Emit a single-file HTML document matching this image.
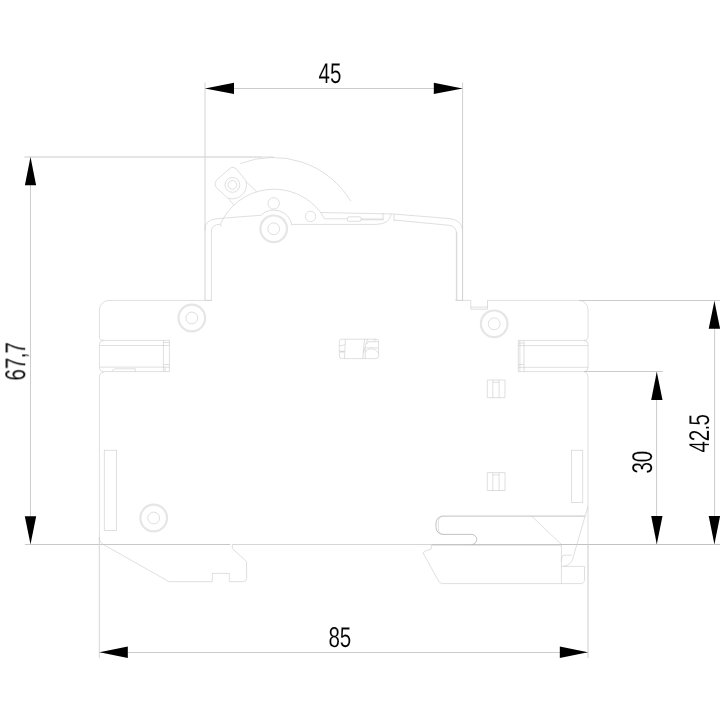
<!DOCTYPE html>
<html>
<head>
<meta charset="utf-8">
<title>Dimension drawing</title>
<style>
html,body{margin:0;padding:0;background:#fff;}
body{width:720px;height:714px;overflow:hidden;}
svg{display:block;}
text{font-family:"Liberation Sans",sans-serif;font-size:28.6px;text-rendering:geometricPrecision;fill:#000;stroke:#fff;stroke-width:0.12;}
.d{stroke:#cccccc;stroke-width:1;fill:none;}
.b{stroke:#cacaca;stroke-width:0.6;fill:none;}
.r{stroke:#e6e6e6;stroke-width:2.2;fill:none;}
.a{fill:#000;stroke:none;}
</style>
</head>
<body>
<svg width="720" height="714" viewBox="0 0 720 714">
<rect width="720" height="714" fill="#fff"/>

<!-- dimension / extension lines -->
<g class="d">
<path d="M205,88.5H462.5"/>
<path d="M205,82.4V300.4" stroke="#d4d4d4"/>
<path d="M462.6,82.4V300.4" stroke="#d0d0d0"/>
<path d="M24.5,157H262"/><path d="M262,157H274" stroke="#dedede"/>
<path d="M30.5,157V544.5"/>
<path d="M25,544.5H230.4" stroke="#c8c8c8"/><path d="M232.4,544.5H431.7" stroke="#d6d6d6"/><path d="M431.7,544.5H720" stroke="#c2c2c2"/><path d="M431.7,545.4H561.4" stroke="#e4e4e4"/>
<path d="M99.3,537V658" stroke="#d6d6d6"/>
<path d="M588,544V658"/>
<path d="M99.4,652.5H588"/>
<path d="M579,300.5H720"/>
<path d="M584,371.5H663"/>
<path d="M656.6,371.5V544.5"/>
<path d="M714.6,300.5V544.5"/>
</g>

<!-- arrows -->
<g class="a">
<path d="M205,88.4L234,82.7V94.1Z"/>
<path d="M462.6,88.4L433.8,82.7V94.1Z"/>
<path d="M30.5,156.9L24.9,185.2H36.1Z"/>
<path d="M30.5,544.3L24.8,516.2H36.2Z"/>
<path d="M99.5,652.2L127.8,646.4V658Z"/>
<path d="M588,652.3L559.8,646.5V658.1Z"/>
<path d="M656.8,371.7L651.2,399.9H662.5Z"/>
<path d="M656.8,544.2L651.2,516H662.5Z"/>
<path d="M714.4,301L708.7,328.7H720.1Z"/>
<path d="M714.4,544.2L708.7,516H720.1Z"/>
</g>

<!-- dimension text -->
<g opacity="0.99">
<text transform="translate(318.6,83.4) scale(0.72,1)">45</text>
<text transform="translate(328.4,647.3) scale(0.72,1)">85</text>
<text transform="translate(25.2,380.6) rotate(-90) scale(0.72,1)">67<tspan dx="-1">,</tspan><tspan dx="-1.2">7</tspan></text>
<text transform="translate(652.2,473.6) rotate(-90) scale(0.72,1)">30</text>
<text transform="translate(709.2,452.6) rotate(-90) scale(0.72,1)">42<tspan dx="-1">.</tspan><tspan dx="-1">5</tspan></text>
</g>

<!-- BODY -->
<g class="b" id="body">
<!-- top-left of housing -->
<path d="M99.4,336.6V310A9.6,9.6 0 0 1 109,300.4H211.7"/>
<path d="M99.4,336.6Q99.4,340.2 103.8,340.4"/>
<!-- left terminal -->
<path d="M169.4,340.4H103.4Q99.4,340.4 99.4,344.4V367.6Q99.4,371.6 103.4,371.6H169.4Z"/>
<path d="M99.4,345.5H169.4M99.4,367.1H169.4M163.4,340.4V371.6M165,367.1V371.6M163.4,342.5H169.4M163.4,364.5H169.4"/>
<path d="M111.5,371.6Q113.5,369 115.8,368.8H135.3V371.6"/>
<!-- left edge lower -->
<path d="M103.8,372.4Q99.4,372.6 99.4,377V539.2Q99.6,542 103,544.3L169.1,581.7H212.3V573.4H229.3V581.7H243.2Q246.6,581.7 246.6,578.3V561.6L232.4,548.6V544.5"/>
<!-- left slot -->
<rect x="104.2" y="450.2" width="12.5" height="80.2"/>
<!-- right top -->
<path d="M455.2,300.4H470.8V309.2H487.5V300.4H579A9.1,9.5 0 0 1 588.1,310V336.6Q588.1,340.2 584,340.4"/>
<path d="M470.8,307.1H487.5"/>
<!-- right terminal -->
<path d="M518.3,340.4H584.1Q588.1,340.4 588.1,344.4V367.6Q588.1,371.6 584.1,371.6H518.3Z"/>
<path d="M518.3,345.6H588.1M518.3,367.3H588.1M524,340.4V371.6M519.9,340.4V371.6M518.3,343H524M518.3,364.5H524"/>
<!-- right edge -->
<path d="M584,371.8Q588,372.2 588,377.3V544.5"/>
<!-- right slot -->
<rect x="571.4" y="450.2" width="11.4" height="52.1"/>
<!-- small boxes -->
<path d="M487.3,380H505V397.7H487.3ZM492.8,380V397.7M499.1,380V397.7M492.8,382.3H499.1"/>
<path d="M487.3,472.6H505V490.5H487.3ZM492.8,472.6V490.5M499.1,472.6V490.5M492.8,474.9H499.1"/>
<!-- window -->
<rect x="339.3" y="339.2" width="39.3" height="19.4" rx="2.6"/>
<path d="M345.4,339.2L344.5,358.6M339.3,345.8Q343,345.6 345.2,344.4M364.5,339.2L362.8,358.6M367.6,339.2Q365.6,344 364.9,348.3L363.1,352.6M365.2,348.6V358.6M365.2,351.8Q368,348.7 371.6,348.6Q376.4,349 378.6,353.1M364.9,348Q372,347.4 378.6,348M368.3,341.7H378.2M368.3,341.7Q367.4,342.6 367,344M373.6,340.6L376,339.4"/>
<path d="M339.3,350.7H344.8V352.5H339.3Z" fill="#d8d8d8" stroke="none"/>
<!-- bottom right clip -->
<path d="M585.2,516.1H443A7,7 0 0 0 436,523V527.4A7,7 0 0 0 443,534.4H471.7A5.05,5.05 0 0 1 471.7,544.5" stroke="#b2b2b2" stroke-width="0.8"/>
<path d="M443.4,516.2A5,5 0 0 0 438.4,521.2V529.2A5,5 0 0 0 443.4,534.2"/>
<path d="M431.7,544.5L431,549.2L424.4,551.4Q422.6,552.2 423.6,554L438.6,581Q440,583.6 442.6,583.6H580.4Q584.5,583.6 584.5,579.8V566.4H561.4"/>
<path d="M561.4,544.5V583.6"/>
<path d="M531.3,515.8L561.4,544.5"/>
<path d="M587.9,506.5L572.8,558.6Q570.8,565.4 563.6,566.2"/>
<path d="M571.8,555.2H563Q561,558 561.4,562"/>

<!-- front nose / bracket -->
<path d="M205,230.5V229Q205.2,220.4 214.6,219.1L223.4,218.1L260.7,215.3"/>
<path d="M211.4,300.4V231Q211.8,224.6 219.8,224.3Q221.4,224.6 221.2,226.6"/>
<path d="M211.7,300.4H205"/>
<!-- arcs (centre 273,248) -->
<path d="M240.3,163.6A90.7,90.7 0 0 1 350.8,201.2"/>
<path d="M220.2,224.6A58.5,58.5 0 0 1 320.6,212.4L324.4,218.8"/>
<!-- lever head -->
<path d="M216.3,180.3L230.3,168.05Q232.8,166.2 235.9,168.5L245.7,180.3A14.1,14.1 0 0 1 227.5,197.9L216,187.3Q213.6,183.8 216.3,180.3Z"/>
<circle cx="232.4" cy="184.9" r="7.4"/>
<circle cx="232.4" cy="184.9" r="4.4"/>
<path d="M246.1,181.7L256.6,191.7M228.6,198.5L233.5,204.9"/>
<!-- small circles -->
<circle cx="273.7" cy="203.4" r="5.7"/>
<circle cx="310.5" cy="216.4" r="5.2"/>
<!-- pivot -->
<circle cx="273.7" cy="228.8" r="5.9"/>
<path d="M260.7,215.5A18.5,18.5 0 0 1 291.9,225.2L293,224.4H376Q389.6,224.2 391.2,214.2"/>
<!-- top of nose to the right -->
<path d="M320.6,212.5L393.3,214L449,218.5Q461.6,219.8 462.5,229.5"/>
<path d="M394.2,220L449,225.3Q456.2,226.2 456.5,233"/><path d="M456.6,232V300.4" stroke="#dcdcdc" stroke-width="1.5"/><path d="M456.5,300.4H462.5"/>
<path d="M324.4,218.8H347.5M361,219H383.1M361,219.8H383.1M383.1,213V220.2M394.1,214V221.3"/>
<rect x="347.4" y="216.8" width="13.7" height="4.5" rx="1.6"/>
</g>
<g class="r">
<circle cx="191.8" cy="318" r="13.3"/>
<circle cx="494.2" cy="323.8" r="13.3"/>
<circle cx="153.7" cy="518" r="13.3"/>
<circle cx="273.7" cy="228.8" r="13.3"/>
</g>
<g class="b">
<circle cx="191.8" cy="318" r="5.9"/>
<circle cx="494.2" cy="323.8" r="5.9"/>
<circle cx="153.7" cy="518" r="5.9"/>
</g>

</svg>
</body>
</html>
